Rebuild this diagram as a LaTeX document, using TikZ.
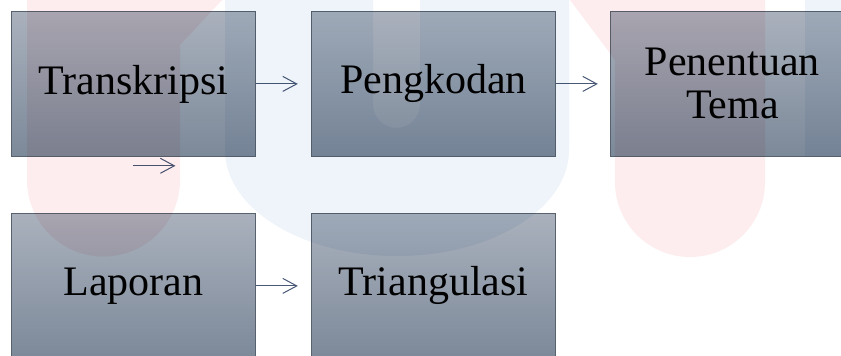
\documentclass[tikz,border=0pt]{standalone}
\usepackage{fontspec}
\setmainfont{Liberation Serif}
\usetikzlibrary{arrows.meta}
\definecolor{boxtop}{RGB}{170,177,189}
\definecolor{boxbot}{RGB}{124,137,153}
\definecolor{boxline}{RGB}{88,98,110}
\definecolor{arr}{RGB}{72,88,118}
\definecolor{wmred}{RGB}{253,237,238}
\definecolor{wmblue}{RGB}{238,244,249}
\begin{document}
\begin{tikzpicture}[x=1pt,y=-1pt,
  stage/.style={draw=boxline, line width=0.8pt, top color=boxtop, bottom color=boxbot,
    minimum width=244pt, minimum height=145pt, inner sep=0pt,
    font=\fontsize{42}{43}\selectfont, align=center, anchor=north west, text=black},
  flow/.style={draw=arr, line width=1pt, -{Straight Barb[length=14pt,width=15pt,line width=1pt]}}]
\useasboundingbox (0,0) rectangle (841,356);
\begin{scope}
\clip (0,0) rectangle (841,356);
\fill[white] (0,0) rectangle (841,356);
\node[stage] (t) at (11,11) {Transkripsi};
\node[stage] (p) at (311,11) {Pengkodan};
\node[stage] (m) at (610,11) {Penentuan\\Tema};
\node[stage] (l) at (11,213) {Laporan};
\node[stage] (g) at (311,213) {Triangulasi};
\draw[flow] (t.east) -- ++(42,0);
\draw[flow] (p.east) -- ++(42,0);
\draw[flow] (l.east) -- ++(42,0);
\coordinate (s0) at ([yshift=-9pt]t.south);
\coordinate (s1) at ([xshift=42pt]s0);
\draw[flow] (s0) -- (s1);
\begin{scope}[blend mode=multiply]
\fill[wmred] (27,0) -- (222,0) -- (180,45) -- (180,180)
  arc[start angle=0,end angle=180,radius=76.5] -- cycle;
\fill[wmblue,even odd rule] (225,0) -- (569,0) -- (569,150)
  arc[start angle=0,end angle=180,x radius=172,y radius=106] -- cycle
  (373,0) -- (420,0) -- (420,104.5) arc[start angle=0,end angle=180,radius=23.5] -- cycle;
\fill[wmred] (570,0) -- (765,0) -- (765,182)
  arc[start angle=0,end angle=180,radius=75] -- (615,60) -- cycle;
\fill[wmblue] (805,0) rectangle (841,156);
\end{scope}
\end{scope}
\end{tikzpicture}
\end{document}
